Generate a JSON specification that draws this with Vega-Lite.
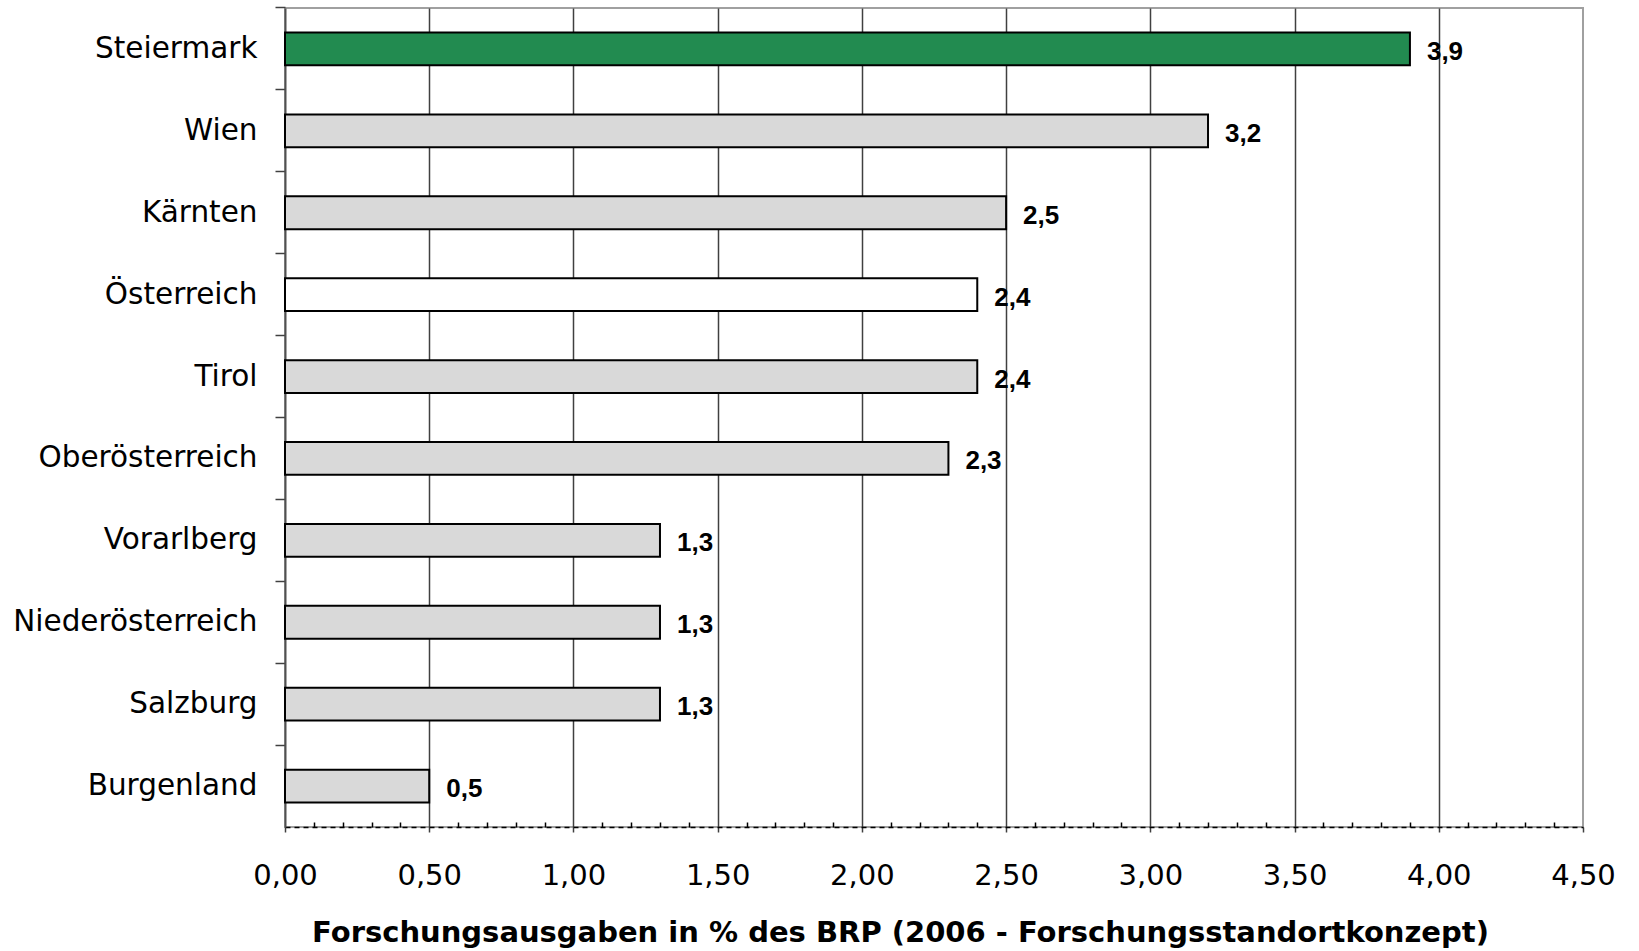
{
  "$schema": "https://vega.github.io/schema/vega-lite/v6.json",
  "autosize": "none",
  "width": 1298,
  "height": 819,
  "padding": {"left": 285, "top": 8, "right": 56, "bottom": 124},
  "background": "#ffffff",
  "config": {
    "locale": {"number": {"decimal": ",", "thousands": ".", "grouping": [3], "currency": ["", " €"]}},
    "view": {"stroke": "#a0a0a0", "strokeWidth": 2},
    "font": "DejaVu Sans"
  },
  "data": {
    "values": [
      {"region": "Steiermark", "value": 3.9, "kind": "highlight"},
      {"region": "Wien", "value": 3.2, "kind": "region"},
      {"region": "Kärnten", "value": 2.5, "kind": "region"},
      {"region": "Österreich", "value": 2.4, "kind": "total"},
      {"region": "Tirol", "value": 2.4, "kind": "region"},
      {"region": "Oberösterreich", "value": 2.3, "kind": "region"},
      {"region": "Vorarlberg", "value": 1.3, "kind": "region"},
      {"region": "Niederösterreich", "value": 1.3, "kind": "region"},
      {"region": "Salzburg", "value": 1.3, "kind": "region"},
      {"region": "Burgenland", "value": 0.5, "kind": "region"}
    ]
  },
  "encoding": {
    "y": {
      "field": "region",
      "type": "nominal",
      "sort": null,
      "scale": {"paddingInner": 0.6, "paddingOuter": 0.3},
      "axis": {
        "title": null,
        "labelFont": "DejaVu Sans",
        "labelFontSize": 29.5,
        "labelColor": "#000000",
        "labelPadding": 18,
        "labelLimit": 0,
        "bandPosition": -0.75,
        "tickSize": 10,
        "tickColor": "#404040",
        "tickWidth": 1.5,
        "domainColor": "#505050",
        "domainWidth": 2
      }
    }
  },
  "layer": [
    {
      "mark": {"type": "bar", "stroke": "#000000", "strokeWidth": 2},
      "encoding": {
        "x": {
          "field": "value",
          "type": "quantitative",
          "scale": {"domain": [0, 4.5], "nice": false, "zero": true},
          "axis": {
            "orient": "bottom",
            "values": [0, 0.5, 1, 1.5, 2, 2.5, 3, 3.5, 4, 4.5],
            "format": ".2f",
            "grid": true,
            "gridColor": "#404040",
            "gridWidth": 1.5,
            "gridOpacity": {"condition": {"test": "datum.value == 0 || datum.value == 4.5", "value": 0}, "value": 1},
            "tickSize": 5,
            "tickColor": "#404040",
            "tickWidth": 1.5,
            "domainColor": "#000000",
            "domainDash": [5, 4],
            "domainWidth": 1.5,
            "labelFont": "DejaVu Sans",
            "labelFontSize": 29,
            "labelColor": "#000000",
            "labelPadding": 29,
            "labelFlush": false,
            "title": "Forschungsausgaben in % des BRP (2006 - Forschungsstandortkonzept)",
            "titleFont": "DejaVu Sans",
            "titleFontSize": 29,
            "titleFontWeight": "bold",
            "titleColor": "#000000",
            "titlePadding": 28,
            "titleX": 615,
            "titleAnchor": "middle"
          }
        },
        "fill": {
          "field": "kind",
          "type": "nominal",
          "scale": {"domain": ["highlight", "total", "region"], "range": ["#228B50", "#ffffff", "#d9d9d9"]},
          "legend": null
        }
      }
    },
    {
      "mark": {"type": "text", "align": "left", "baseline": "middle", "dx": 17, "dy": 3, "font": "Liberation Sans", "fontSize": 26, "fontWeight": "bold", "color": "#000000"},
      "encoding": {
        "x": {
          "field": "value",
          "type": "quantitative",
          "axis": {
            "orient": "bottom",
            "values": [0.1, 0.2, 0.3, 0.4, 0.6, 0.7, 0.8, 0.9, 1.1, 1.2, 1.3, 1.4, 1.6, 1.7, 1.8, 1.9, 2.1, 2.2, 2.3, 2.4, 2.6, 2.7, 2.8, 2.9, 3.1, 3.2, 3.3, 3.4, 3.6, 3.7, 3.8, 3.9, 4.1, 4.2, 4.3, 4.4],
            "domain": false,
            "grid": false,
            "labels": false,
            "title": null,
            "tickSize": -5,
            "tickColor": "#000000",
            "tickWidth": 1.5
          }
        },
        "text": {"field": "value", "type": "quantitative", "format": ".1f"}
      }
    }
  ],
  "resolve": {"axis": {"x": "independent"}}
}
